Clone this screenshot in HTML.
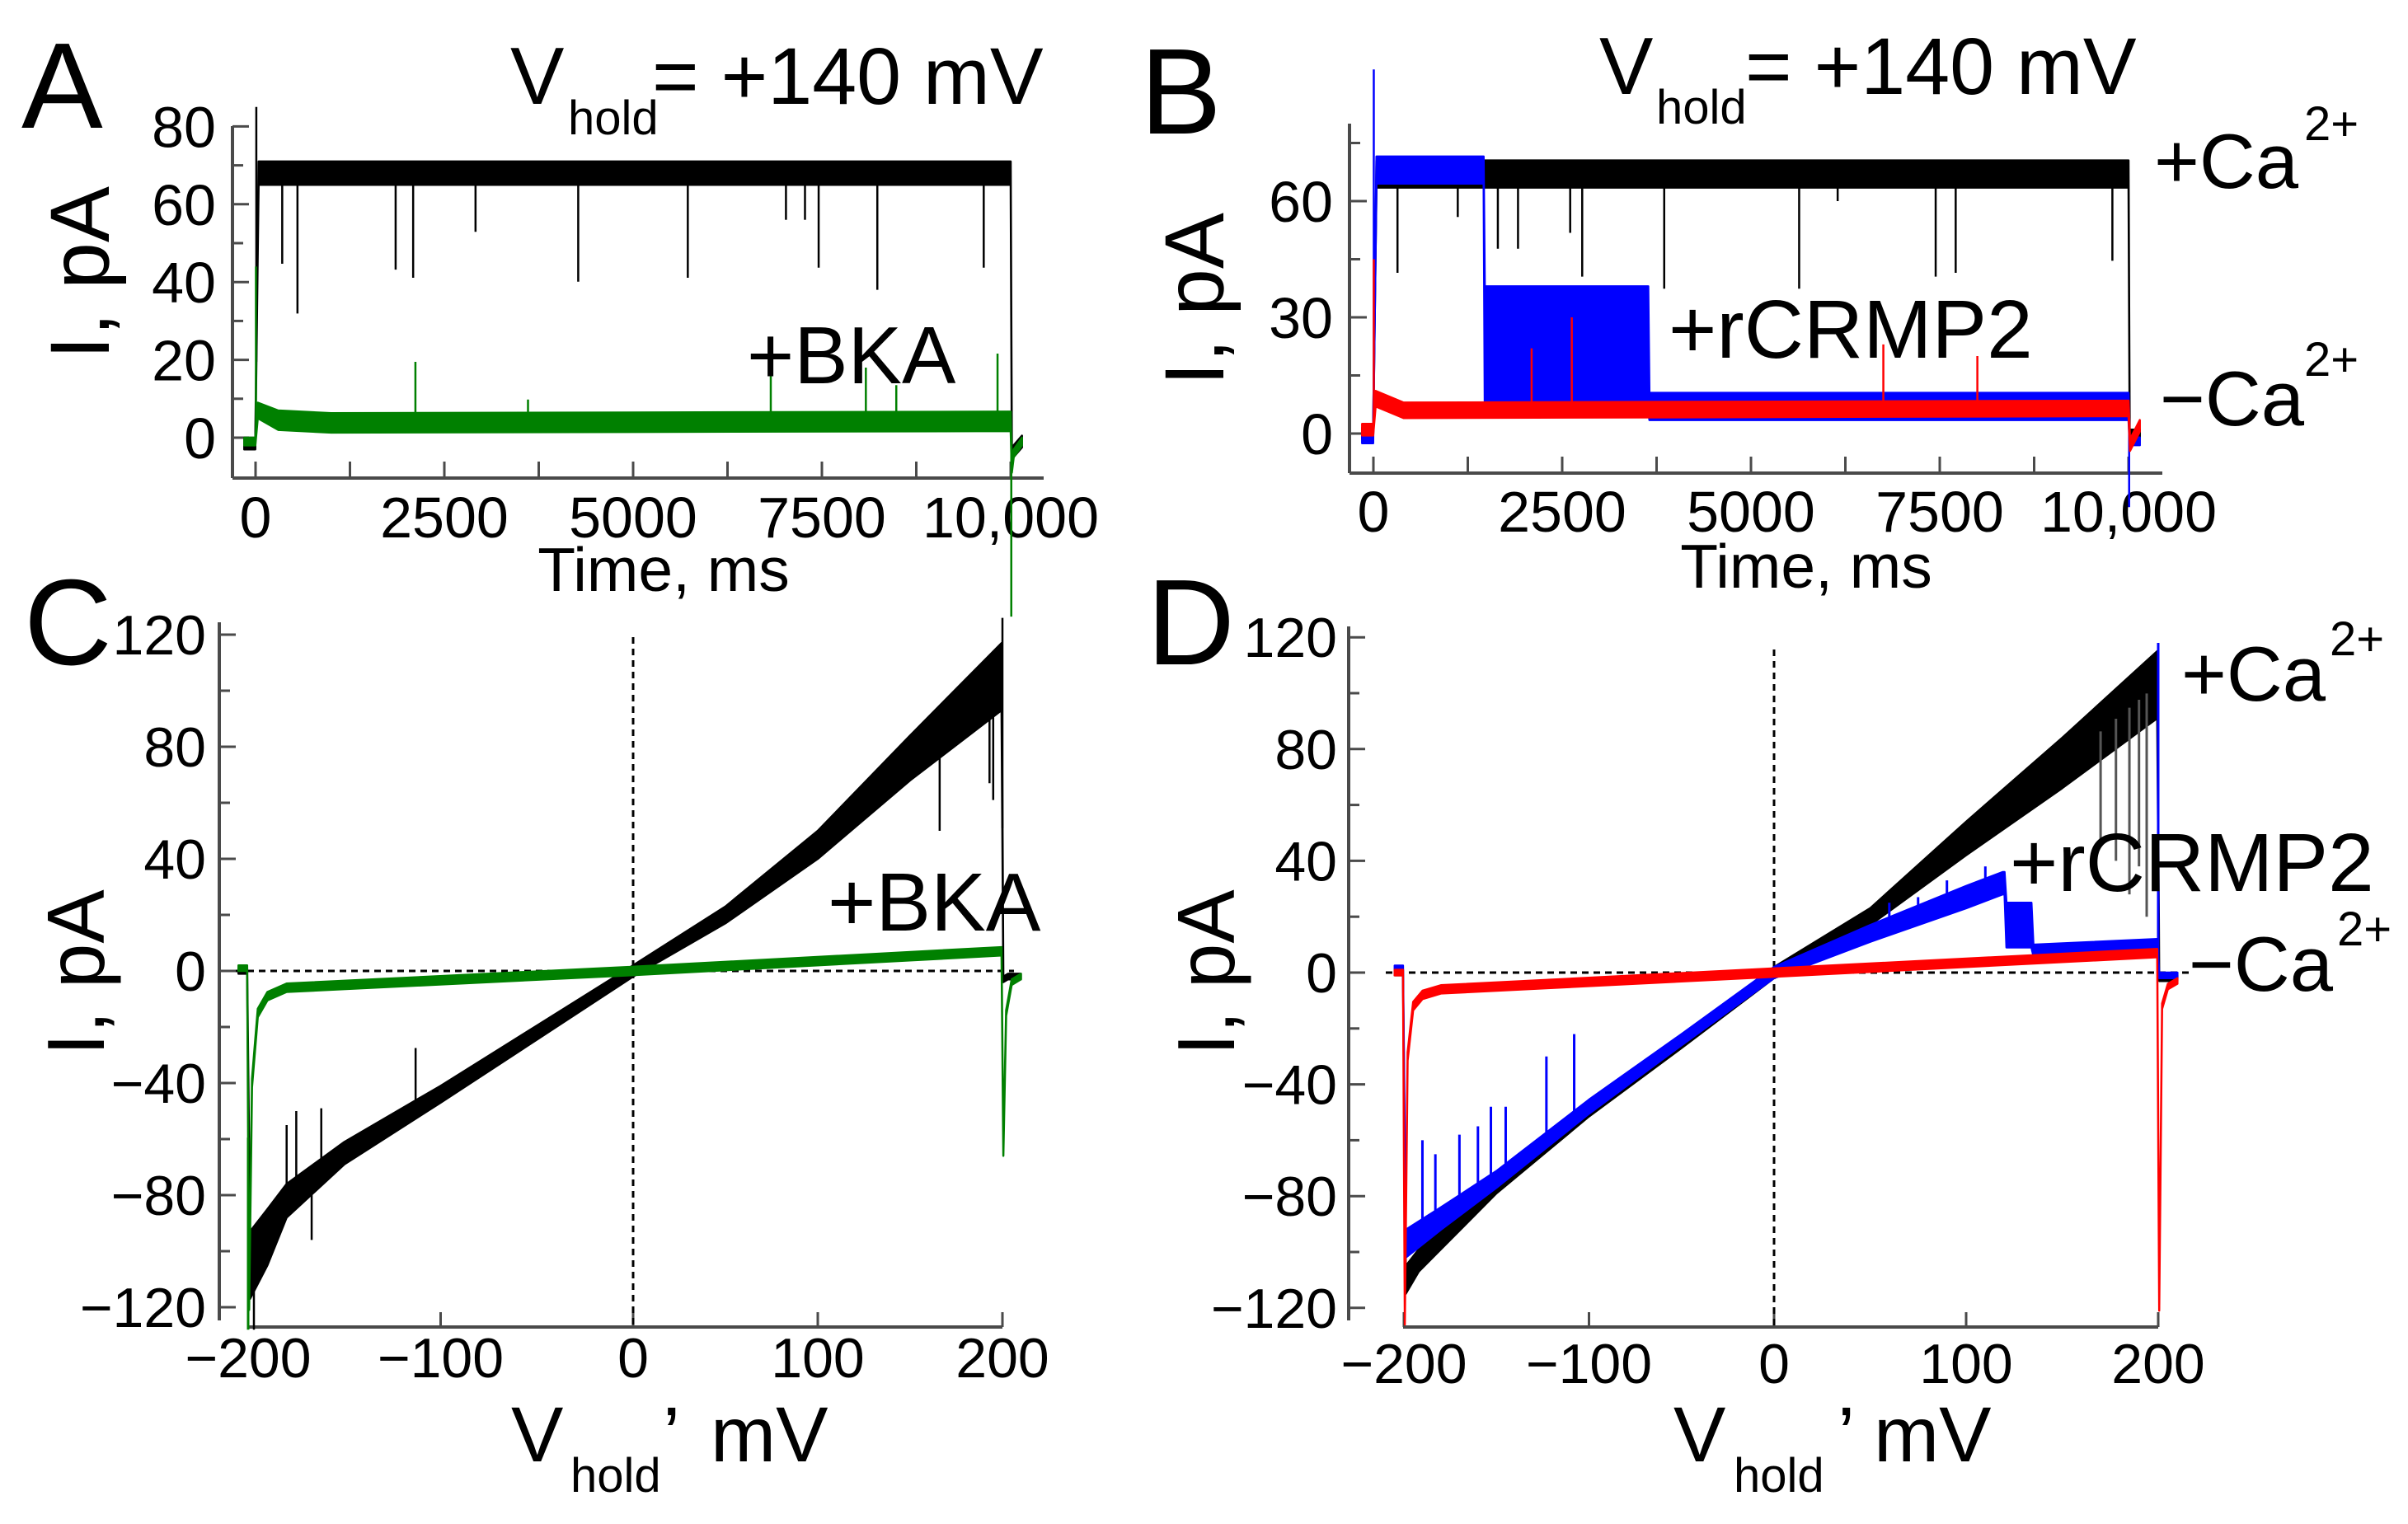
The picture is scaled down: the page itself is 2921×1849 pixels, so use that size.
<!DOCTYPE html>
<html><head><meta charset="utf-8"><style>
html,body{margin:0;padding:0;background:#fff;}
svg{display:block;font-family:"Liberation Sans",Arial,sans-serif;}
</style></head><body>
<svg id="fig" width="2921" height="1849" viewBox="0 0 2921 1849" xmlns="http://www.w3.org/2000/svg">
<rect width="2921" height="1849" fill="#fff"/>
<g id="layer"></g>
<g id="texts" fill="#000">
<text x="26" y="155" font-size="148">A</text>
<text x="1383" y="162" font-size="148">B</text>
<text x="29" y="806" font-size="148">C</text>
<text x="1391" y="806" font-size="148">D</text>
<g>
<text x="619" y="126" font-size="98">V</text><text x="689" y="163" font-size="58">hold</text><text x="791" y="126" font-size="97">= +140 mV</text></g>
<g>
<text x="1940" y="114" font-size="98">V</text><text x="2009" y="150" font-size="58">hold</text><text x="2117" y="114" font-size="97">= +140 mV</text></g>
<text x="805" y="717" font-size="75" text-anchor="middle">Time, ms</text>
<text x="2191" y="713" font-size="75" text-anchor="middle">Time, ms</text>
<text transform="translate(132,331) rotate(-90)" font-size="102" text-anchor="middle">I, pA</text>
<text transform="translate(1484,363) rotate(-90)" font-size="102" text-anchor="middle">I, pA</text>
<text transform="translate(126,1180) rotate(-90)" font-size="98" text-anchor="middle">I, pA</text>
<text transform="translate(1497,1180) rotate(-90)" font-size="98" text-anchor="middle">I, pA</text>
<g>
<text x="620" y="1773" font-size="95">V</text><text x="692" y="1810" font-size="58">hold</text><text x="804" y="1773" font-size="95">’</text><text x="862" y="1773" font-size="95">mV</text></g>
<g>
<text x="2030" y="1773" font-size="95">V</text><text x="2103" y="1810" font-size="58">hold</text><text x="2229" y="1773" font-size="95">’</text><text x="2273" y="1773" font-size="95">mV</text></g>
</g>
<g id="labels" fill="#000">
<text x="906" y="465" font-size="98">+BKA</text>
<text x="1004" y="1129" font-size="100">+BKA</text>
<text x="2024" y="434" font-size="100">+rCRMP2</text>
<text x="2438" y="1081" font-size="100">+rCRMP2</text>
<g><text x="2613" y="228" font-size="94">+Ca</text><text x="2795" y="170" font-size="58">2+</text></g>
<g><text x="2620" y="516" font-size="94">−Ca</text><text x="2795" y="456" font-size="58">2+</text></g>
<g><text x="2646" y="850" font-size="94">+Ca</text><text x="2826" y="795" font-size="58">2+</text></g>
<g><text x="2655" y="1202" font-size="94">−Ca</text><text x="2835" y="1147" font-size="58">2+</text></g>
</g>
</svg>
<script>
// ---------- Panel A data (time ms, current pA) ----------
const aBlackT  = [-150, -3, 40, 10000, 10015, 10150];
const aBlackC  = [-1.5, -1.5, 68, 68, -4, -1];
const aBlackHW = [1.5, 1.5, 3, 3, 1.5, 1.5];
const aBlackSpikeT = [10, 353, 555, 1855, 2087, 2913, 4273, 5724, 7024, 7276, 7457, 8234, 9643];
const aBlackSpikeV = [85, 44.7, 31.9, 43.2, 41.1, 52.9, 40.1, 41.1, 56, 56, 43.7, 38, 43.7];
const aGreenT  = [-150, -3, 30, 300, 1000, 10000, 10015, 10040, 10150];
const aGreenC  = [-1, -1, 7, 4.5, 3.8, 4.2, -8, -4, -1];
const aGreenHW = [1, 1, 2, 2.5, 2.5, 2.5, 1, 1, 1];
const aGreenSpikeT = [5, 2117, 3608, 6823, 8082, 8485, 9826, 10008];
const aGreenSpikeV = [44, 19.5, 9.8, 18, 18, 13.5, 21.6, -46];
const aYTicks = [0, 20, 40, 60, 80];
const aXTicks = [0, 2500, 5000, 7500, 10000];
const aXTickLabels = ["0", "2500", "5000", "7500", "10,000"];
// ---------- Panel B data ----------
const bBlackT  = [-150, -3, 40, 10000, 10015, 10150];
const bBlackC  = [0, 0, 67, 67, 0, 0];
const bBlackHW = [1.5, 1.5, 3.5, 3.5, 1, 1];
const bBlackSpikeT = [319, 1117, 1648, 1915, 2606, 2765, 3851, 5638, 6148, 7446, 7711, 9786];
const bBlackSpikeV = [41.5, 55.9, 47.7, 47.7, 51.8, 40.5, 37.4, 37.4, 60, 40.5, 41.5, 44.6];
const bBlueT  = [-150, -3, 40, 1460, 1475, 3640, 3655, 10000, 10015, 10150];
const bBlueC  = [-1, -1, 68, 68, 22, 22, 7, 7, -2, -2];
const bBlueHW = [1.5, 1.5, 3.5, 3.5, 16, 16, 3.5, 3.5, 1, 1];
const bBlueSpikeT = [5, 10008];
const bBlueSpikeV = [94, -19];
const bRedT  = [-150, -3, 30, 400, 10000, 10020, 10150];
const bRedC  = [1, 1, 9, 6, 6.5, -3, 2];
const bRedHW = [1.5, 1.5, 2, 2, 2, 1.5, 1.5];
const bRedSpikeT = [5, 2095, 2627, 6753, 7998];
const bRedSpikeV = [45, 22, 30, 23, 20];
const bYTicks = [0, 30, 60];
const bYMinor = [15, 45, 75];
// ---------- Panel C data (mV, pA) ----------
const cBlackV  = [-205, -200.5, -199, -190, -180, -150, -100, -50, 0, 50, 100, 150, 199.5, 200.5, 203, 210];
const cBlackC  = [0, 0, -105, -95, -82, -65, -44, -22, 0, 20, 45, 76, 105, -3, -2, -2];
const cBlackHW = [1, 1, 12, 10, 6, 4, 3, 2.5, 2, 3, 5, 8, 12, 1, 1, 1];
const cBlackSpikeV = [-197, -180, -175, -167, -162, -113, 166, 193, 195, 200];
const cBlackSpikeI = [-128, -55, -50, -96, -49, -27.5, 50, 67, 61, 126];
const cGreenV  = [-205, -200.5, -199.5, -198, -195, -190, -180, 0, 199.5, 200.5, 202, 205, 210];
const cGreenC  = [1, 1, -120, -40, -15, -9, -6, 0, 7, -65, -15, -4, -2];
const cGreenHW = [1, 1, 1, 1.5, 1.5, 1.5, 1.5, 1.5, 1.5, 1, 1, 1, 1];
const cGreenSpikeV = [-200];
const cGreenSpikeI = [-128];
// ---------- Panel D data ----------
const dBlackV  = [-205, -200.5, -199, -192, -150, -100, -50, 0, 50, 100, 150, 199.5, 200.5, 210];
const dBlackC  = [0, 0, -110, -103, -76, -49, -25, 0, 20, 48, 75, 103, -2, -2];
const dBlackHW = [1, 1, 5, 4, 3, 2.5, 2, 2, 3, 6, 9, 12, 1, 1];
const dBlackSpikeV = [170, 178, 185, 190, 194];
const dBlackSpikeI = [45, 40, 28, 38, 20];
const dBlueV  = [-205, -200.5, -199, -180, -150, -100, -50, 0, 50, 100, 119, 120, 121, 134, 135, 199.5, 200.5, 210];
const dBlueC  = [1, 1, -97, -88, -74, -48, -24, 0, 14, 27, 32, 32, 17, 17, 8, 10, -1, -1];
const dBlueHW = [1.5, 1.5, 5, 4, 3, 2.5, 2, 2, 3, 4, 4, 4, 8, 8, 2, 2, 1, 1];
const dBlueSpikeV = [-190, -183, -170, -160, -153, -145, -123, -108, 60, 75, 90, 110, 200];
const dBlueSpikeI = [-60, -65, -58, -55, -48, -48, -30, -22, 25, 27, 33, 38, 118];
const dRedV  = [-205, -200.5, -199.5, -198, -195, -190, -180, 0, 199.5, 200.5, 202, 205, 210];
const dRedC  = [0, 0, -125, -30, -12, -8, -6, 0, 7, -120, -12, -5, -3];
const dRedHW = [1, 1, 1, 1.5, 1.5, 1.5, 1.5, 1.5, 1.5, 1, 1, 1, 1];
const ivYTicks = [-120, -80, -40, 0, 40, 80, 120];
const ivXTicks = [-200, -100, 0, 100, 200];
const ivXTickLabels = ["−200", "−100", "0", "100", "200"];

const NS = "http://www.w3.org/2000/svg";
const layer = document.getElementById("layer");
function mk(tag, attrs, parent) {
  const e = document.createElementNS(NS, tag);
  for (const k in attrs) e.setAttribute(k, attrs[k]);
  (parent || layer).appendChild(e);
  return e;
}
// axis functions
const xA = t => 310 + t * 0.0916, yA = v => 531 - v * 4.72;
const xB = t => 1666 + t * 0.0916, yB = v => 526 - v * 4.7;
const xC = v => v < 0 ? 768 + v * 2.335 : 768 + v * 2.24, yC = i => 1178 - i * 3.4;
const xD = v => v < 0 ? 2152 + v * 2.245 : 2152 + v * 2.33, yD = i => 1180 - i * 3.39;

function band(xs, cs, hws, fx, fy, color, name) {
  const up = xs.map((x, k) => fx(x).toFixed(1) + "," + fy(cs[k] + hws[k]).toFixed(1));
  const lo = xs.map((x, k) => fx(x).toFixed(1) + "," + fy(cs[k] - hws[k]).toFixed(1)).reverse();
  const p = mk("polygon", {points: up.concat(lo).join(" "), fill: color, stroke: color, "stroke-width": 2.5, "stroke-linejoin": "round"});
  
  
}
function interp(xs, cs, x) {
  for (let k = 0; k < xs.length - 1; k++) if (x >= xs[k] && x <= xs[k + 1]) {
    const f = (x - xs[k]) / ((xs[k + 1] - xs[k]) || 1); return cs[k] + f * (cs[k + 1] - cs[k]);
  }
  return cs[cs.length - 1];
}
function spikes(sx, sv, xs, cs, fx, fy, color, w, name) {
  sx.forEach((x, k) => {
    const l = mk("line", {x1: fx(x), x2: fx(x), y1: fy(interp(xs, cs, x)), y2: fy(sv[k]), stroke: color, "stroke-width": w});
    
    
  });
}
const AX = "#4a4a4a";
function line(x1, y1, x2, y2, w, name, extra) {
  const l = mk("line", Object.assign({x1, y1, x2, y2, stroke: AX, "stroke-width": w}, extra || {}));
  
  
  return l;
}
function label(x, y, s, size, anchor, name) {
  const t = mk("text", {x, y, "font-size": size, "text-anchor": anchor, fill: "#000"});
  t.textContent = s;
  
  
}

// ---- Panel A axes ----
line(282, 153, 282, 580, 4, "panel-a-y-axis");
line(282, 580, 1266, 580, 4, "panel-a-x-axis");
for (let v = -10; v <= 80; v += 10) if (v >= 0) line(282, yA(v), v % 20 === 0 ? 302 : 295, yA(v), 3, "panel-a-y-tick");
for (let t = 0; t <= 10000; t += 1250) line(xA(t), 580, xA(t), 560, 3, "panel-a-x-tick");
aYTicks.forEach(v => label(262, yA(v) + 25, String(v), 70, "end", "panel-a-y-tick-label"));
aXTicks.forEach((t, k) => label(xA(t), 652, aXTickLabels[k], 70, "middle", "panel-a-x-tick-label"));
band(aBlackT, aBlackC, aBlackHW, xA, yA, "#000", "panel-a-control-trace");
spikes(aBlackSpikeT, aBlackSpikeV, aBlackT, aBlackC, xA, yA, "#000", 2.5, "panel-a-control-spike");
band(aGreenT, aGreenC, aGreenHW, xA, yA, "#008000", "panel-a-bka-trace");
spikes(aGreenSpikeT, aGreenSpikeV, aGreenT, aGreenC, xA, yA, "#008000", 2.5, "panel-a-bka-spike");

// ---- Panel B axes ----
line(1637, 150, 1637, 574, 4, "panel-b-y-axis");
line(1637, 574, 2623, 574, 4, "panel-b-x-axis");
bYTicks.forEach(v => line(1637, yB(v), 1658, yB(v), 3, "panel-b-y-tick"));
bYMinor.forEach(v => line(1637, yB(v), 1650, yB(v), 3, "panel-b-y-minor-tick"));
for (let t = 0; t <= 10000; t += 1250) line(xB(t), 574, xB(t), 554, 3, "panel-b-x-tick");
bYTicks.forEach(v => label(1617, yB(v) + 25, String(v), 70, "end", "panel-b-y-tick-label"));
aXTicks.forEach((t, k) => label(xB(t), 645, aXTickLabels[k], 70, "middle", "panel-b-x-tick-label"));
band(bBlackT, bBlackC, bBlackHW, xB, yB, "#000", "panel-b-plus-ca-trace");
spikes(bBlackSpikeT, bBlackSpikeV, bBlackT, bBlackC, xB, yB, "#000", 2.5, "panel-b-plus-ca-spike");
band(bBlueT, bBlueC, bBlueHW, xB, yB, "#0000ff", "panel-b-rcrmp2-trace");
spikes(bBlueSpikeT, bBlueSpikeV, bBlueT, bBlueC, xB, yB, "#0000ff", 2.5, "panel-b-rcrmp2-spike");
band(bRedT, bRedC, bRedHW, xB, yB, "#ff0000", "panel-b-minus-ca-trace");
spikes(bRedSpikeT, bRedSpikeV, bRedT, bRedC, xB, yB, "#ff0000", 2.5, "panel-b-minus-ca-spike");

// ---- Panel C axes ----
line(266, 755, 266, 1602, 4, "panel-c-y-axis");
line(300, 1610, 1216, 1610, 4, "panel-c-x-axis");
for (let v = -120; v <= 120; v += 20) line(266, yC(v), v % 40 === 0 ? 286 : 279, yC(v), 3, "panel-c-y-tick");
ivXTicks.forEach(v => line(xC(v), 1610, xC(v), 1592, 3, "panel-c-x-tick"));
ivYTicks.forEach(v => label(250, yC(v) + 24, v < 0 ? "−" + Math.abs(v) : String(v), 68, "end", "panel-c-y-tick-label"));
ivXTicks.forEach((v, k) => label(xC(v), 1671, ivXTickLabels[k], 68, "middle", "panel-c-x-tick-label"));
line(286, yC(0), 1230, yC(0), 3, "panel-c-zero-current-line", {"stroke-dasharray": "8,6", stroke: "#000"});
line(xC(0), 773, xC(0), 1610, 3, "panel-c-zero-voltage-line", {"stroke-dasharray": "8,6", stroke: "#000"});
band(cBlackV, cBlackC, cBlackHW, xC, yC, "#000", "panel-c-control-iv");
spikes(cBlackSpikeV, cBlackSpikeI, cBlackV, cBlackC, xC, yC, "#000", 2.5, "panel-c-control-spike");
band(cGreenV, cGreenC, cGreenHW, xC, yC, "#008000", "panel-c-bka-iv");
spikes(cGreenSpikeV, cGreenSpikeI, cGreenV, cGreenC, xC, yC, "#008000", 3, "panel-c-bka-spike");

// ---- Panel D axes ----
line(1636, 760, 1636, 1602, 4, "panel-d-y-axis");
line(1702, 1610, 2618, 1610, 4, "panel-d-x-axis");
for (let v = -120; v <= 120; v += 20) line(1636, yD(v), v % 40 === 0 ? 1656 : 1649, yD(v), 3, "panel-d-y-tick");
ivXTicks.forEach(v => line(xD(v), 1610, xD(v), 1592, 3, "panel-d-x-tick"));
ivYTicks.forEach(v => label(1622, yD(v) + 24, v < 0 ? "−" + Math.abs(v) : String(v), 68, "end", "panel-d-y-tick-label"));
ivXTicks.forEach((v, k) => label(xD(v), 1678, ivXTickLabels[k], 68, "middle", "panel-d-x-tick-label"));
line(1681, yD(0), 2655, yD(0), 3, "panel-d-zero-current-line", {"stroke-dasharray": "8,6", stroke: "#000"});
line(xD(0), 788, xD(0), 1610, 3, "panel-d-zero-voltage-line", {"stroke-dasharray": "8,6", stroke: "#000"});
band(dBlackV, dBlackC, dBlackHW, xD, yD, "#000", "panel-d-plus-ca-iv");
spikes(dBlackSpikeV, dBlackSpikeI, dBlackV, dBlackC, xD, yD, "#555", 3, "panel-d-plus-ca-spike");
band(dBlueV, dBlueC, dBlueHW, xD, yD, "#0000ff", "panel-d-rcrmp2-iv");
spikes(dBlueSpikeV, dBlueSpikeI, dBlueV, dBlueC, xD, yD, "#0000ff", 3, "panel-d-rcrmp2-spike");
band(dRedV, dRedC, dRedHW, xD, yD, "#ff0000", "panel-d-minus-ca-iv");
</script>
</body></html>
